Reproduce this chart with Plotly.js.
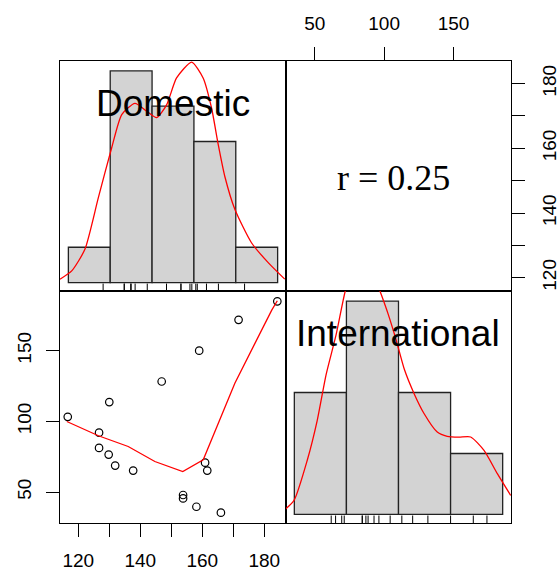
<!DOCTYPE html>
<html><head><meta charset="utf-8">
<script src="https://cdn.plot.ly/plotly-3.0.1.min.js"></script>
<style>html,body{margin:0;padding:0;background:#fff;} #chart{width:559px;height:571px;}</style>
</head><body><div id="chart"></div>
<script>
// Data
const domestic      = [116.6, 130.0, 126.7, 126.7, 129.8, 131.9, 137.7, 146.9, 159.0, 171.7, 160.9, 161.6, 153.8, 153.8, 158.1, 166.0, 184.2];
const international = [103.2, 113.6,  92.0,  81.2,  76.5,  68.7,  65.2, 128.2, 150.0, 171.8,  70.8,  65.2,  47.9,  45.5,  39.6,  35.4, 184.9];

const domBreaks  = [100, 120, 140, 160, 180, 200];
const domCounts  = [1, 6, 5, 4, 1];
const intlBreaks = [0, 50, 100, 150, 200];
const intlCounts = [4, 7, 4, 2];

const domDensX = [96.0, 101.6, 107.9, 114.3, 120.7, 125.5, 131.8, 137.4, 142.2, 147.0, 151.7, 158.9, 164.4, 168.4, 171.6, 174.8, 179.6, 187.5, 195.5, 203.4];
const domDensY = [0.016, 0.055, 0.157, 0.40, 0.637, 0.794, 0.847, 0.81, 0.779, 0.841, 0.967, 1.042, 0.967, 0.826, 0.653, 0.50, 0.345, 0.188, 0.094, 0.016];

const intlDensX = [-9.9, -0.3, 12.4, 22.0, 30.4, 40.0, 48.9, 56, 65, 74, 82.2, 90, 97.6, 105.6, 114.9, 124.5, 137.2, 146.8, 158, 169.3, 182.1, 194.9, 207.7];
const intlDensY = [0.019, 0.066, 0.254, 0.441, 0.653, 0.84, 1.047, 1.15, 1.19, 1.15, 1.047, 0.94, 0.82, 0.68, 0.567, 0.473, 0.386, 0.366, 0.362, 0.363, 0.30, 0.191, 0.089];

const lowessX = [116.3, 126.5, 136.1, 144.7, 153.7, 160.3, 170.5, 177.0, 182.4, 184.2];
const lowessY = [99.9, 89.8, 82.2, 71.6, 64.5, 72.8, 127.0, 155.2, 178.7, 185.3];

const domTicks    = [120, 130, 140, 150, 160, 170, 180];
const domTickText = ['120', '', '140', '', '160', '', '180'];
const intlTicks   = [50, 100, 150];
const corrLabel   = 'r = 0.25';
const varNames    = ['Domestic', 'International'];

// helpers
function histTrace(breaks, counts, xa, ya) {
  const mx = Math.max(...counts);
  const xs = [], ws = [], ys = [];
  for (let i = 0; i < counts.length; i++) {
    xs.push((breaks[i] + breaks[i + 1]) / 2);
    ws.push(breaks[i + 1] - breaks[i]);
    ys.push(counts[i] / mx);
  }
  return {type: 'bar', x: xs, y: ys, width: ws, xaxis: xa, yaxis: ya,
    marker: {color: '#D3D3D3', line: {color: '#222', width: 1.3}}, hoverinfo: 'skip', showlegend: false};
}
function rugTrace(vals, xa, ya) {
  const xs = [], ys = [];
  vals.forEach(v => { xs.push(v, v, null); ys.push(-0.04, -0.005, null); });
  return {type: 'scatter', mode: 'lines', x: xs, y: ys, xaxis: xa, yaxis: ya,
    line: {color: '#000', width: 1}, hoverinfo: 'skip', showlegend: false};
}

const traces = [
  {type: 'scatter', mode: 'markers', x: domestic, y: international, xaxis: 'x', yaxis: 'y',
   marker: {symbol: 'circle-open', size: 7.5, color: '#000', line: {width: 1.2, color: '#000'}}, showlegend: false},
  {type: 'scatter', mode: 'lines', x: lowessX, y: lowessY, xaxis: 'x', yaxis: 'y',
   line: {color: 'red', width: 1.3}, showlegend: false},
  // empty trace so the upper-right (correlation) panel and its axes exist
  {type: 'scatter', mode: 'markers', x: [null], y: [null], xaxis: 'x2', yaxis: 'y2',
   marker: {opacity: 0}, hoverinfo: 'skip', showlegend: false},
  histTrace(domBreaks, domCounts, 'x3', 'y3'),
  rugTrace(domestic, 'x3', 'y3'),
  {type: 'scatter', mode: 'lines', x: domDensX, y: domDensY, xaxis: 'x3', yaxis: 'y3',
   line: {color: 'red', width: 1.3, shape: 'spline', smoothing: 0.6}, showlegend: false},
  histTrace(intlBreaks, intlCounts, 'x4', 'y4'),
  rugTrace(international, 'x4', 'y4'),
  {type: 'scatter', mode: 'lines', x: intlDensX, y: intlDensY, xaxis: 'x4', yaxis: 'y4',
   line: {color: 'red', width: 1.3, shape: 'spline', smoothing: 0.6}, showlegend: false}
];

const XS = 226 / 451, YS = 232 / 462;
const tickFont = {family: 'Liberation Sans, Arial, sans-serif', size: 19, color: '#000'};
const base = {showline: true, linecolor: '#000', linewidth: 1, mirror: true, showgrid: false, zeroline: false,
  ticks: 'outside', ticklen: 13, tickcolor: '#000', tickwidth: 1, tickfont: tickFont, fixedrange: true,
  ticklabelstandoff: 7};
const bare = {showline: true, linecolor: '#000', linewidth: 1, mirror: true, showgrid: false, zeroline: false,
  ticks: '', showticklabels: false, fixedrange: true};

const layout = {
  width: 559, height: 571,
  margin: {l: 60, r: 48, t: 61, b: 48},
  paper_bgcolor: '#fff', plot_bgcolor: '#fff',
  showlegend: false, bargap: 0,
  xaxis:  Object.assign({}, base, {domain: [0, XS], anchor: 'y', range: [114.1, 187.0], ticklabelstandoff: 7,
            tickmode: 'array', tickvals: domTicks, ticktext: domTickText}),
  yaxis:  Object.assign({}, base, {domain: [0, YS], anchor: 'x', range: [28.1, 192.2],
            tickmode: 'array', tickvals: intlTicks, ticktext: intlTicks.map(String), tickangle: -90}),
  xaxis2: Object.assign({}, base, {domain: [XS, 1], anchor: 'y2', side: 'top', range: [29.2, 191.5], ticklabelstandoff: 9,
            tickmode: 'array', tickvals: intlTicks, ticktext: intlTicks.map(String)}),
  yaxis2: Object.assign({}, base, {domain: [YS, 1], anchor: 'x2', side: 'right', range: [115.9, 187.0], ticklabelstandoff: 8,
            tickmode: 'array', tickvals: domTicks, ticktext: domTickText, tickangle: -90}),
  xaxis3: Object.assign({}, bare, {domain: [0, XS], anchor: 'y3', range: [96, 204]}),
  yaxis3: Object.assign({}, bare, {domain: [YS, 1], anchor: 'x3', range: [-0.04, 1.047]}),
  xaxis4: Object.assign({}, bare, {domain: [XS, 1], anchor: 'y4', range: [-8, 208]}),
  yaxis4: Object.assign({}, bare, {domain: [0, YS], anchor: 'x4', range: [-0.04, 1.047]}),
  annotations: [
    {text: corrLabel, xref: 'x2 domain', yref: 'y2 domain', x: 0.477, y: 0.491, showarrow: false,
     xanchor: 'center', yanchor: 'middle', font: {family: 'Liberation Serif, Times New Roman, serif', size: 36, color: '#000'}},
    {text: varNames[0], xref: 'x3 domain', yref: 'y3 domain', x: 0.498, y: 0.817, showarrow: false,
     xanchor: 'center', yanchor: 'middle', font: {family: 'Liberation Sans, Arial, sans-serif', size: 37, color: '#000'}},
    {text: varNames[1], xref: 'x4 domain', yref: 'y4 domain', x: 0.496, y: 0.815, showarrow: false,
     xanchor: 'center', yanchor: 'middle', font: {family: 'Liberation Sans, Arial, sans-serif', size: 37, color: '#000'}}
  ]
};

Plotly.newPlot('chart', traces, layout, {staticPlot: true, displayModeBar: false});
</script>
</body></html>
